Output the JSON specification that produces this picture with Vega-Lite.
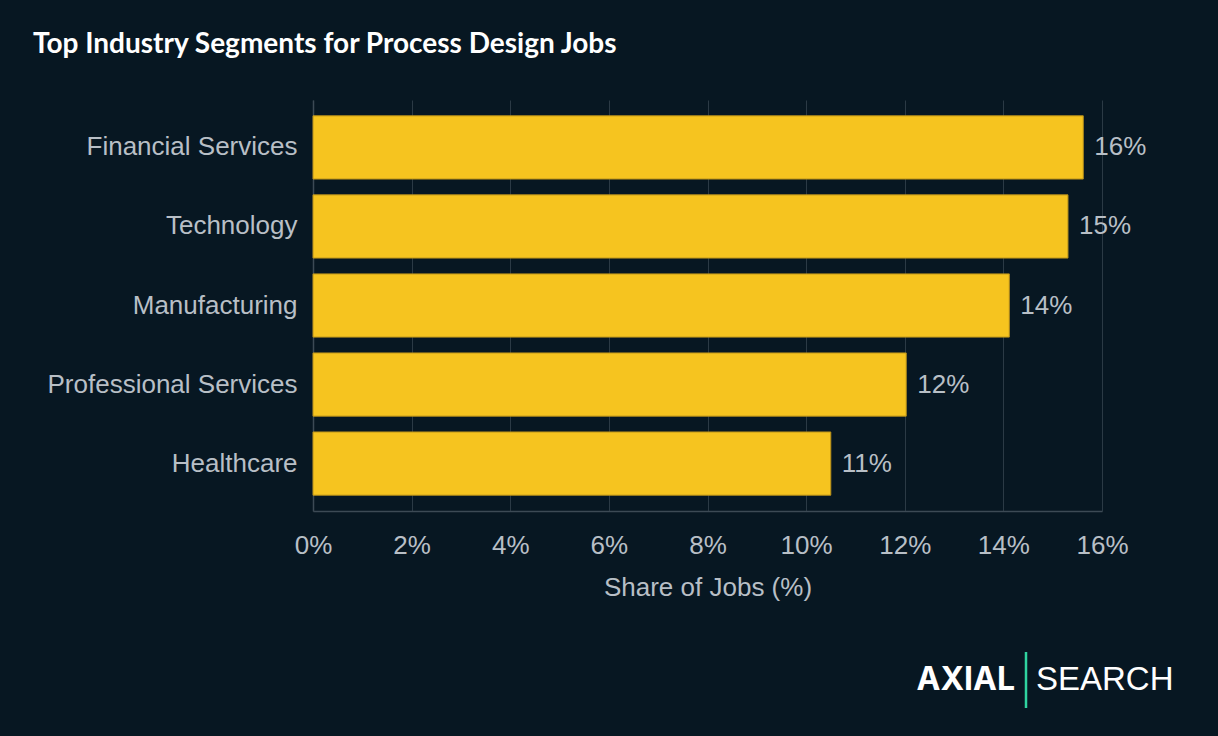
{
  "$schema": "https://vega.github.io/schema/vega-lite/v6.json",
  "background": "#071722",
  "padding": {"left": 33, "top": 31, "right": 62, "bottom": 27},
  "title": {
    "text": "Top Industry Segments for Process Design Jobs",
    "anchor": "start",
    "font": "Lato",
    "fontWeight": "bold",
    "fontSize": 28,
    "color": "#ffffff",
    "dx": -14,
    "offset": 41
  },
  "config": {"view": {"stroke": null}, "font": "Liberation Sans"},
  "spacing": 50,
  "vconcat": [
    {
      "width": 789,
      "height": 411,
      "data": {
        "values": [
          {"industry": "Financial Services", "share": 0.1562},
          {"industry": "Technology", "share": 0.1531},
          {"industry": "Manufacturing", "share": 0.1412},
          {"industry": "Professional Services", "share": 0.1203},
          {"industry": "Healthcare", "share": 0.105}
        ]
      },
      "encoding": {
        "y": {
          "field": "industry",
          "type": "nominal",
          "sort": null,
          "scale": {"paddingInner": 0.2, "paddingOuter": 0.2},
          "axis": {
            "title": null,
            "ticks": false,
            "domain": true,
            "domainColor": "#3c4a55",
            "domainWidth": 1.5,
            "grid": false,
            "labelFontSize": 26,
            "labelColor": "#b8bfc6",
            "labelPadding": 16,
            "labelLimit": 500
          }
        },
        "x": {
          "field": "share",
          "type": "quantitative",
          "scale": {"domain": [0, 0.16], "nice": false},
          "axis": {
            "format": ".0%",
            "values": [0, 0.02, 0.04, 0.06, 0.08, 0.1, 0.12, 0.14, 0.16],
            "title": "Share of Jobs (%)",
            "grid": true,
            "gridColor": "#2b3a45",
            "gridWidth": 1,
            "domainColor": "#3c4a55",
            "domainWidth": 1.5,
            "ticks": false,
            "labelFontSize": 26,
            "labelColor": "#b8bfc6",
            "labelPadding": 21,
            "labelFlush": false,
            "labelOverlap": false,
            "titleFontSize": 26,
            "titleFontWeight": "normal",
            "titleColor": "#b8bfc6",
            "titlePadding": 16
          }
        }
      },
      "layer": [
        {
          "mark": {"type": "bar", "color": "#F6C41F", "stroke": "#b8901a", "strokeWidth": 1}
        },
        {
          "mark": {"type": "text", "align": "left", "baseline": "middle", "dx": 11, "fontSize": 26, "color": "#b8bfc6"},
          "encoding": {"text": {"field": "share", "type": "quantitative", "format": ".0%"}}
        }
      ]
    },
    {
      "width": 713,
      "height": 56,
      "data": {"values": [{"brand": "AXIAL", "name": "SEARCH"}]},
      "layer": [
        {
          "mark": {"type": "rule", "color": "#2fd4a0", "strokeWidth": 2.5},
          "encoding": {"x": {"datum": 1, "type": "quantitative", "scale": {"domain": [0, 1]}, "axis": null}}
        },
        {
          "mark": {"type": "text", "align": "right", "baseline": "middle", "dx": -11, "font": "Inter", "fontWeight": "bold", "fontSize": 32, "color": "#ffffff"},
          "encoding": {
            "x": {"datum": 1, "type": "quantitative", "scale": {"domain": [0, 1]}, "axis": null},
            "text": {"field": "brand"}
          }
        },
        {
          "mark": {"type": "text", "align": "left", "baseline": "middle", "dx": 10, "font": "Liberation Sans", "fontSize": 33, "color": "#ffffff"},
          "encoding": {
            "x": {"datum": 1, "type": "quantitative", "scale": {"domain": [0, 1]}, "axis": null},
            "text": {"field": "name"}
          }
        }
      ]
    }
  ]
}
